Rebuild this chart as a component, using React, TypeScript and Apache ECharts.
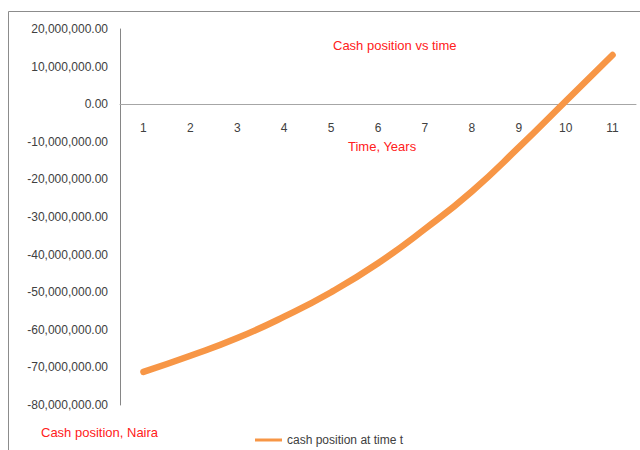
import React, { useEffect, useRef } from "react";
import * as echarts from "echarts";

const years = ["1", "2", "3", "4", "5", "6", "7", "8", "9", "10", "11"];
const cashPosition = [
  -71200000, -66900000, -62200000, -56500000, -50000000, -42300000,
  -33200000, -23200000, -11500000, 800000, 13100000,
];
const seriesName = "cash position at time t";
const chartTitle = "Cash position vs time";
const xTitle = "Time, Years";
const yTitle = "Cash position, Naira";

const fmt = (v: number) =>
  v.toLocaleString("en-US", { minimumFractionDigits: 2, maximumFractionDigits: 2 });

export default function App() {
  const ref = useRef<HTMLDivElement>(null);
  useEffect(() => {
    if (!ref.current) return;
    const chart = echarts.init(ref.current, null, { renderer: "svg" });
    const font = "'Liberation Sans', Arial, sans-serif";
    chart.setOption({
      animation: false,
      backgroundColor: "#ffffff",
      textStyle: { fontFamily: font },
      grid: { left: 120, right: 4, top: 29, bottom: 45, containLabel: false },
      xAxis: {
        type: "category",
        data: years,
        boundaryGap: true,
        position: "bottom",
        offset: -301,
        axisLine: { onZero: false, lineStyle: { color: "#a6a6a6", width: 1 } },
        axisTick: { show: false },
        axisLabel: { color: "#404040", fontSize: 12, margin: 18, fontFamily: font },
        splitLine: { show: false },
      },
      yAxis: {
        type: "value",
        min: -80000000,
        max: 20000000,
        interval: 10000000,
        axisLine: { show: true, lineStyle: { color: "#868686", width: 1 } },
        axisTick: { show: false },
        splitLine: { show: false },
        axisLabel: {
          color: "#404040",
          fontSize: 12,
          margin: 12,
          fontFamily: font,
          formatter: (v: number) => fmt(v),
        },
      },
      legend: {
        left: 250,
        top: 429,
        icon: "rect",
        itemWidth: 27,
        itemHeight: 3,
        textStyle: { color: "#404040", fontSize: 12, fontFamily: font },
        data: [{ name: seriesName, itemStyle: { color: "#f79646" } }],
      },
      graphic: [
        {
          type: "rect",
          silent: true,
          z: -10,
          shape: { x: 8.5, y: 11.5, width: 700, height: 500 },
          style: { fill: "none", stroke: "#8c8c8c", lineWidth: 1 },
        },
        {
          type: "text",
          left: 333,
          top: 39,
          style: { text: chartTitle, fill: "#ff2020", fontSize: 13, fontFamily: font },
        },
        {
          type: "text",
          left: 348,
          top: 140,
          style: { text: xTitle, fill: "#ff2020", fontSize: 13, fontFamily: font },
        },
        {
          type: "text",
          left: 41,
          top: 426,
          style: { text: yTitle, fill: "#ff2020", fontSize: 13, fontFamily: font },
        },
      ],
      series: [
        {
          name: seriesName,
          type: "line",
          data: cashPosition,
          smooth: 0.5,
          symbol: "none",
          lineStyle: { color: "#f79646", width: 6.5, cap: "round", join: "round" },
          itemStyle: { color: "#f79646" },
        },
      ],
    });
    return () => chart.dispose();
  }, []);
  return (
    <div
      ref={ref}
      style={{ position: "fixed", left: 0, top: 0, width: 640, height: 450 }}
    />
  );
}
